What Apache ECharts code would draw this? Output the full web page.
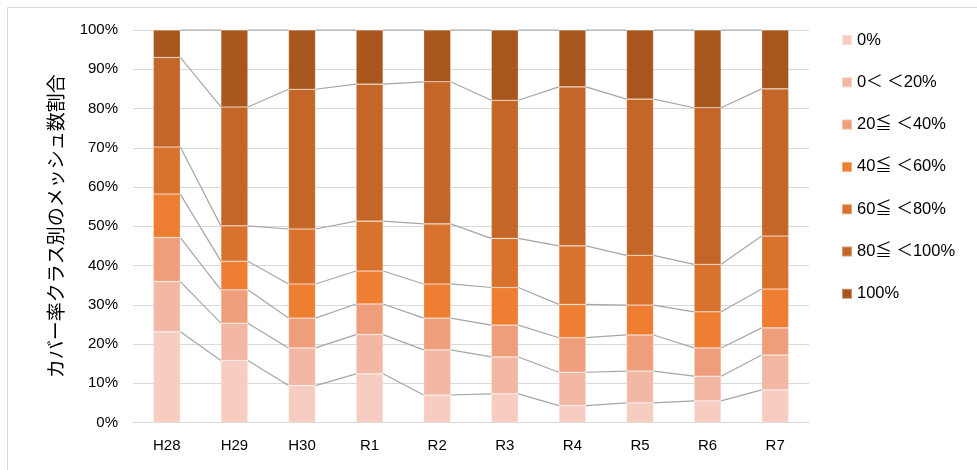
<!DOCTYPE html>
<html>
<head>
<meta charset="utf-8">
<script src="https://cdn.jsdelivr.net/npm/echarts@6/dist/echarts.min.js"></script>
<style>
html,body{margin:0;padding:0;background:#fff;}
#chart{width:977px;height:470px;}
</style>
</head>
<body>
<div id="chart"></div>
<script>
const categories = ['H28','H29','H30','R1','R2','R3','R4','R5','R6','R7'];
const seriesNames = ['0%','0＜ ＜20%','20≦ ＜40%','40≦ ＜60%','60≦ ＜80%','80≦ ＜100%','100%'];
const s0   = [23.1,15.8, 9.4,12.4, 7.0, 7.3, 4.3, 5.0, 5.5, 8.3];
const s1   = [12.8, 9.5, 9.6,10.0,11.5, 9.4, 8.5, 8.1, 6.3, 8.9];
const s2   = [11.2, 8.5, 7.6, 7.8, 8.1, 8.1, 8.8, 9.2, 7.2, 6.9];
const s3   = [11.1, 7.3, 8.7, 8.4, 8.7, 9.6, 8.5, 7.6, 9.2, 9.9];
const s4   = [12.0, 9.0,14.0,12.7,15.3,12.5,14.9,12.7,12.1,13.5];
const s5   = [22.8,30.3,35.6,34.9,36.2,35.2,40.5,39.8,39.9,37.5];
const s6   = [ 7.0,19.6,15.1,13.8,13.2,17.9,14.5,17.6,19.8,15.0];
const yTickLabels = ['0%','10%','20%','30%','40%','50%','60%','70%','80%','90%','100%'];
const yTitle = 'カバー率クラス別のメッシュ数割合';

const seriesValues = [s0,s1,s2,s3,s4,s5,s6];
const colors = ['#F8CDC1','#F3B8A4','#EF9E7B','#ED7E32','#D9722C','#C46628','#A9561F'];
const FONT = '"Liberation Sans", "Noto Sans CJK JP", sans-serif';

// cumulative tops per category
const cum = categories.map((c, i) => {
  let acc = 0;
  return seriesValues.map(arr => (acc += arr[i]));
});

const chart = echarts.init(document.getElementById('chart'));

const barSeries = seriesValues.map((arr, k) => ({
  name: seriesNames[k],
  type: 'bar',
  stack: 'total',
  barWidth: '40%',
  data: arr,
  itemStyle: { color: colors[k], borderColor: 'rgba(255,255,255,0.35)', borderWidth: 0.6 },
  emphasis: { disabled: true },
  z: 3
}));

const linkSeries = {
  type: 'custom',
  coordinateSystem: 'cartesian2d',
  silent: true,
  z: 2,
  data: categories.slice(0, -1).map((c, i) => [i, 0]),
  encode: { x: 0, y: 1 },
  renderItem: function (params, api) {
    const i = api.value(0);
    const band = api.size([1, 0])[0];
    const hw = band * 0.2;
    const children = [];
    for (let k = 0; k < seriesValues.length; k++) {
      const p1 = api.coord([i, cum[i][k]]);
      const p2 = api.coord([i + 1, cum[i + 1][k]]);
      children.push({
        type: 'line',
        shape: { x1: p1[0] + hw, y1: p1[1], x2: p2[0] - hw, y2: p2[1] },
        style: { stroke: '#A6A6A6', lineWidth: 1.2 }
      });
    }
    return { type: 'group', children: children };
  }
};

chart.setOption({
  animation: false,
  backgroundColor: '#fff',
  textStyle: { fontFamily: FONT },
  graphic: [{
    type: 'rect',
    shape: { x: 7.5, y: 7.5, width: 1000, height: 500 },
    style: { fill: 'none', stroke: '#D9D9D9', lineWidth: 1 },
    silent: true
  }],
  grid: { left: 133, right: 168, top: 30, bottom: 47.5 },
  legend: {
    orient: 'vertical',
    left: 836,
    top: 26.5,
    itemWidth: 10,
    itemHeight: 10,
    itemGap: 25.3,
    icon: 'rect',
    data: seriesNames,
    textStyle: { fontFamily: FONT, fontSize: 16.5, color: '#000', lineHeight: 17 }
  },
  xAxis: {
    type: 'category',
    data: categories,
    axisTick: { show: false },
    axisLine: { show: true, lineStyle: { color: '#D9D9D9', width: 1 } },
    axisLabel: { color: '#000', fontSize: 15, fontFamily: FONT, margin: 16 }
  },
  yAxis: {
    type: 'value',
    min: 0,
    max: 100,
    interval: 10,
    name: yTitle,
    nameLocation: 'middle',
    nameGap: 66,
    nameRotate: 90,
    nameTextStyle: { color: '#000', fontSize: 19, fontFamily: FONT },
    axisLine: { show: false },
    axisTick: { show: false },
    splitLine: { lineStyle: { color: '#D9D9D9', width: 1 } },
    axisLabel: {
      color: '#000', fontSize: 15, fontFamily: FONT, margin: 15,
      formatter: function (v) { return yTickLabels[Math.round(v / 10)]; }
    }
  },
  series: barSeries.concat([linkSeries])
});
</script>
</body>
</html>
